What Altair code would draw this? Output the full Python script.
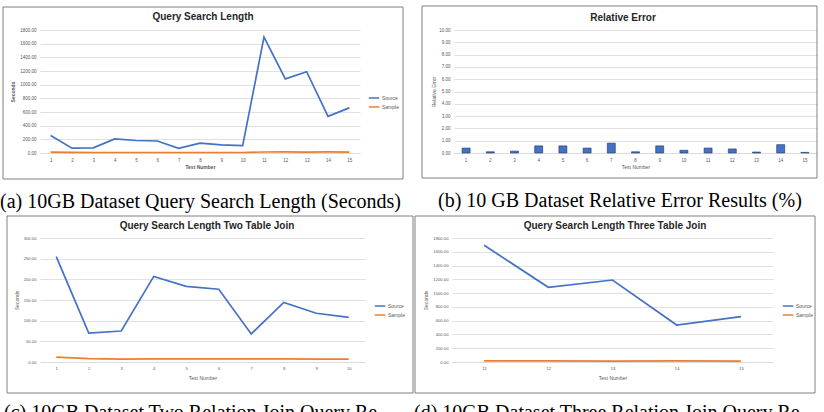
import altair as alt
import pandas as pd

# Test numbers and measured query times / errors on the 10 GB dataset
test_numbers = list(range(1, 16))
source_seconds = [255, 70, 75, 207, 183, 176, 68, 144, 118, 108, 1695, 1085, 1190, 537, 660]
sample_seconds = [12, 8, 7, 7.5, 7.5, 7.5, 7.5, 7.5, 7, 7, 15, 17, 13, 16, 14]
relative_error = [0.40, 0.10, 0.15, 0.58, 0.58, 0.40, 0.80, 0.10, 0.58, 0.22,
                  0.40, 0.33, 0.08, 0.68, 0.05]

# Queries 1-10 join two tables, queries 11-15 join three tables
two_join = slice(0, 10)
three_join = slice(10, 15)

series_names = ["Source", "Sample"]
series_colors = ["#4472C4", "#ED7D31"]

panel_titles = [
    "Query Search Length",
    "Relative Error",
    "Query Search Length Two Table Join",
    "Query Search Length Three Table Join",
]
captions = [
    "(a) 10GB Dataset Query Search Length (Seconds)",
    "(b) 10 GB Dataset Relative Error Results (%)",
    "(c) 10GB Dataset Two Relation Join Query Re-",
    "(d) 10GB Dataset Three Relation Join Query Re-",
]

SANS = "Liberation Sans"
SERIF = "Liberation Serif"
GRID = "#d9d9d9"
LABEL = "#595959"
one_row = pd.DataFrame({"k": [0]})


def decorations(w, h, box, title, title_xy, caption, caption_xy):
    """Chart frame, chart title and the figure caption below the frame."""
    left, right, top, bottom = box
    base = alt.Chart(one_row)
    frame = base.mark_rect(filled=False, stroke="#808080", strokeWidth=1).encode(
        x=alt.value(-left), x2=alt.value(w + right),
        y=alt.value(-top), y2=alt.value(h + bottom),
    )
    head = base.mark_text(
        font=SANS, fontSize=10, fontWeight="bold", color="#262626",
        align="center", baseline="middle", text=title,
    ).encode(x=alt.value(title_xy[0]), y=alt.value(title_xy[1]))
    cap = base.mark_text(
        font=SERIF, fontSize=20, color="black",
        align="left", baseline="alphabetic", text=caption,
    ).encode(x=alt.value(caption_xy[0]), y=alt.value(caption_xy[1]))
    return frame, head, cap


def y_axis(title, values, h, label_size, title_x, bold):
    return alt.Axis(
        values=values, format=".2f", grid=True, gridColor=GRID, gridWidth=0.8,
        domain=False, ticks=False, labelFont=SANS, labelFontSize=label_size,
        labelColor=LABEL, labelPadding=4, title=title, titleFont=SANS,
        titleFontSize=5, titleFontWeight="bold" if bold else "normal",
        titleColor=LABEL, titleX=title_x, titleY=h / 2, titleAngle=270,
        titleAlign="center", titleBaseline="middle",
    )


def x_axis(label_size, bold, title_pad):
    return alt.Axis(
        labelAngle=0, grid=False, ticks=False, domainColor=GRID, domainWidth=0.8,
        labelFont=SANS, labelFontSize=label_size, labelColor=LABEL, labelPadding=4,
        title="Test Number", titleFont=SANS, titleFontSize=5,
        titleFontWeight="bold" if bold else "normal", titleColor=LABEL,
        titlePadding=title_pad,
    )


def line_panel(tests, src, smp, ymax, ystep, w, h, box, title, title_xy,
               caption, caption_xy, label_size, bold, ytitle_x, legend_xy, xtitle_pad):
    df = pd.DataFrame({
        "test": tests + tests,
        "series": ["Source"] * len(tests) + ["Sample"] * len(tests),
        "value": src + smp,
    })
    lines = alt.Chart(df).mark_line(strokeWidth=1.7).encode(
        x=alt.X("test:O", scale=alt.Scale(type="point", padding=0.5),
                axis=x_axis(label_size, bold, xtitle_pad)),
        y=alt.Y("value:Q", scale=alt.Scale(domain=[0, ymax], nice=False),
                axis=y_axis("Seconds", list(range(0, ymax + 1, ystep)), h,
                            label_size, ytitle_x, bold)),
        color=alt.Color(
            "series:N",
            scale=alt.Scale(domain=series_names, range=series_colors),
            legend=alt.Legend(
                orient="none", legendX=legend_xy[0], legendY=legend_xy[1],
                title=None, symbolType="stroke", symbolSize=110,
                symbolStrokeWidth=1.5, labelFont=SANS, labelFontSize=5,
                labelColor=LABEL, labelOffset=2, rowPadding=0, padding=0,
            ),
        ),
    )
    frame, head, cap = decorations(w, h, box, title, title_xy, caption, caption_xy)
    return alt.layer(frame, lines, head, cap).properties(width=w, height=h)


def bar_panel(tests, errors, w, h, box, title, title_xy, caption, caption_xy):
    df = pd.DataFrame({"test": tests, "error": errors})
    bars = alt.Chart(df).mark_bar(
        size=8, color="#4472C4", stroke="#1f3864", strokeWidth=0.6
    ).encode(
        x=alt.X("test:O", scale=alt.Scale(paddingInner=0, paddingOuter=0),
                axis=x_axis(4.5, False, 3)),
        y=alt.Y("error:Q", scale=alt.Scale(domain=[0, 10], nice=False),
                axis=y_axis("Relative Error", list(range(0, 11)), h, 4.5, -21, False)),
    )
    frame, head, cap = decorations(w, h, box, title, title_xy, caption, caption_xy)
    return alt.layer(frame, bars, head, cap).properties(width=w, height=h)


panel_a = line_panel(
    test_numbers, source_seconds, sample_seconds, 1800, 200,
    320, 123, (37, 43, 23, 26), panel_titles[0], (163, -13),
    captions[0], (-40, 178), 4.5, True, -28, (328, 62), 3,
)
panel_b = bar_panel(
    test_numbers, relative_error,
    363, 123, (32, 0, 24, 25), panel_titles[1], (169, -12),
    captions[1], (-16, 177),
)
panel_c = line_panel(
    test_numbers[two_join], source_seconds[two_join], sample_seconds[two_join],
    300, 50, 325, 124, (33, 48, 22, 31), panel_titles[2], (167, -12),
    captions[2], (-36, 181), 4.2, False, -24, (334, 62), 5,
)
panel_d = line_panel(
    test_numbers[three_join], source_seconds[three_join], sample_seconds[three_join],
    1800, 200, 321, 124, (37, 42, 22, 31), panel_titles[3], (163, -12),
    captions[3], (-38, 181), 4.2, False, -27, (330, 62), 5,
)

top_row = alt.hconcat(panel_a, panel_b, spacing=17).resolve_scale(
    x="independent", y="independent", color="independent")
bottom_row = alt.hconcat(panel_c, panel_d, spacing=0).resolve_scale(
    x="independent", y="independent", color="independent")

chart = (
    alt.vconcat(top_row, bottom_row, spacing=3)
    .resolve_scale(x="independent", y="independent", color="independent")
    .properties(padding={"left": 0, "top": 5, "right": 0, "bottom": 0})
    .configure_view(strokeWidth=0)
)

chart.save("out.html", embed_options={"renderer": "svg", "actions": False})
